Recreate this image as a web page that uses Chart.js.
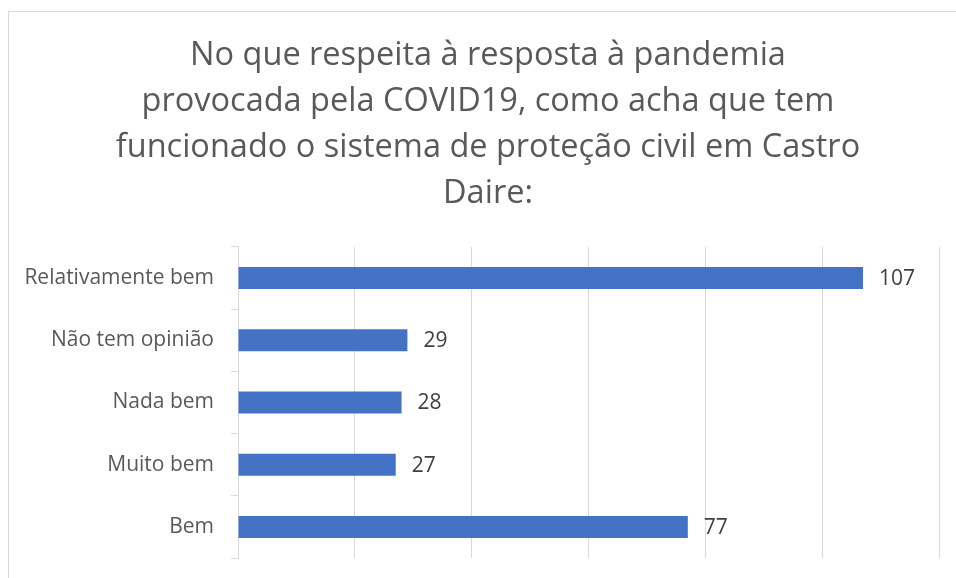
<!DOCTYPE html>
<html>
<head>
<meta charset="utf-8">
<script src="https://cdn.jsdelivr.net/npm/chart.js@4.4.0/dist/chart.umd.min.js"></script>
<style>
  body { margin: 0; background: #fff; overflow: hidden; }
  #box { position: absolute; left: 8px; top: 11px; width: 958px; height: 600px; border: 1px solid #d9d9d9; }
</style>
</head>
<body>
<div id="box"><canvas id="grafik" width="958" height="600"></canvas></div>
<script>
const kategori = ["Relativamente bem", "Não tem opinião", "Nada bem", "Muito bem", "Bem"];
const nilai = [107, 29, 28, 27, 77];
const judul = [
  "No que respeita à resposta à pandemia",
  "provocada pela COVID19, como acha que tem",
  "funcionado o sistema de proteção civil em Castro",
  "Daire:"
];

const fontUtama = "'Open Sans', sans-serif";

// tulis angka di ujung batang
const labelNilai = {
  id: "labelNilai",
  afterDatasetsDraw(chart) {
    const ctx = chart.ctx;
    ctx.save();
    ctx.font = "21px " + fontUtama;
    ctx.fillStyle = "#404040";
    ctx.textAlign = "left";
    ctx.textBaseline = "middle";
    chart.getDatasetMeta(0).data.forEach((bar, i) => {
      ctx.fillText(nilai[i], bar.x + 16, bar.y + 1);
    });
    ctx.restore();
  }
};

// judul dipusatkan ke seluruh lebar kotak, bukan hanya area kiri
const judulTengah = {
  id: "judulTengah",
  afterLayout(chart) {
    if (chart.titleBlock) {
      chart.titleBlock.left = 0;
      chart.titleBlock.right = chart.width;
      chart.titleBlock.width = chart.width;
    }
  }
};

const ctx = document.getElementById("grafik").getContext("2d");
new Chart(ctx, {
  type: "bar",
  data: {
    labels: kategori,
    datasets: [{
      data: nilai,
      backgroundColor: "#4472C4",
      categoryPercentage: 1,
      barPercentage: 0.354
    }]
  },
  options: {
    indexAxis: "y",
    responsive: false,
    animation: false,
    layout: { padding: { left: 0, right: 28, top: 0, bottom: 54 } },
    plugins: {
      legend: { display: false },
      tooltip: { enabled: false },
      title: {
        display: true,
        text: judul,
        color: "#595959",
        font: { family: fontUtama, size: 32.5, weight: "normal", lineHeight: 1.415 },
        padding: { top: 21, bottom: 30 }
      }
    },
    scales: {
      x: {
        min: 0,
        max: 120,
        ticks: { display: false, stepSize: 20 },
        grid: { color: "#d9d9d9", drawTicks: false, lineWidth: 1 },
        border: { display: false },
        afterFit(scale) { scale.height = 0; }
      },
      y: {
        ticks: { color: "#595959", font: { family: fontUtama, size: 21 }, padding: 17 },
        grid: { drawOnChartArea: false, color: "#d9d9d9", tickLength: 7, offset: true },
        border: { color: "#d9d9d9" },
        afterFit(scale) { scale.width = 229; }
      }
    }
  },
  plugins: [labelNilai, judulTengah]
});
</script>
</body>
</html>
